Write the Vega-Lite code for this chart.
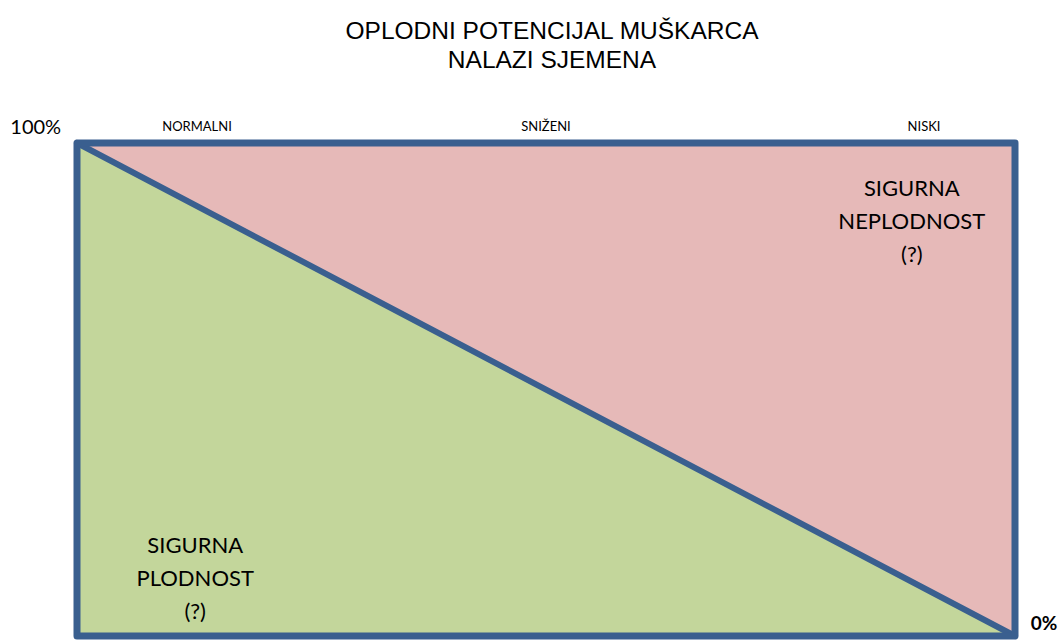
{
  "$schema": "https://vega.github.io/schema/vega-lite/v6.json",
  "width": 938,
  "height": 493,
  "autosize": {"type": "none"},
  "padding": {"left": 77, "top": 143, "right": 47, "bottom": 8},
  "background": "white",
  "config": {"view": {"stroke": null}},
  "title": {
    "text": ["OPLODNI POTENCIJAL MUŠKARCA", "NALAZI SJEMENA"],
    "font": "Liberation Sans",
    "fontSize": 24.5,
    "fontWeight": "normal",
    "color": "#000000",
    "anchor": "middle",
    "lineHeight": 29,
    "offset": 45,
    "dx": 6
  },
  "datasets": {
    "tri": [
      {"x": 0, "line": 100, "top": 100, "bottom": 0},
      {"x": 100, "line": 0, "top": 100, "bottom": 0}
    ],
    "box": [{"x": 0, "x2": 100, "y": 0, "y2": 100}],
    "labels": [
      {"x": 12.8, "y": 103.3, "text": "NORMALNI"},
      {"x": 50.0, "y": 103.3, "text": "SNIŽENI"},
      {"x": 90.3, "y": 103.3, "text": "NISKI"}
    ],
    "ends": [
      {"x": -4.4, "y": 103.0, "text": "100%"}
    ],
    "zero": [
      {"x": 103.1, "y": 2.4, "text": "0%"}
    ],
    "zones": [
      {"x": 89.0, "y": 90.6, "text": ["SIGURNA", "NEPLODNOST", "(?)"]},
      {"x": 12.6, "y": 18.3, "text": ["SIGURNA", "PLODNOST", "(?)"]}
    ]
  },
  "encoding": {},
  "layer": [
    {
      "data": {"name": "tri"},
      "mark": {"type": "area", "color": "#E6B9B8", "opacity": 1},
      "encoding": {
        "x": {"field": "x", "type": "quantitative", "scale": {"domain": [0, 100], "nice": false}, "axis": null},
        "y": {"field": "line", "type": "quantitative", "scale": {"domain": [0, 100], "nice": false}, "axis": null},
        "y2": {"field": "top"}
      }
    },
    {
      "data": {"name": "tri"},
      "mark": {"type": "area", "color": "#C3D69B", "opacity": 1},
      "encoding": {
        "x": {"field": "x", "type": "quantitative"},
        "y": {"field": "line", "type": "quantitative"},
        "y2": {"field": "bottom"}
      }
    },
    {
      "data": {"name": "tri"},
      "mark": {"type": "line", "color": "#3A5F8F", "strokeWidth": 6, "strokeCap": "round"},
      "encoding": {
        "x": {"field": "x", "type": "quantitative"},
        "y": {"field": "line", "type": "quantitative"}
      }
    },
    {
      "data": {"name": "box"},
      "mark": {"type": "rect", "fill": null, "fillOpacity": 0, "stroke": "#3A5F8F", "strokeWidth": 7, "strokeJoin": "round"},
      "encoding": {
        "x": {"field": "x", "type": "quantitative"},
        "x2": {"field": "x2"},
        "y": {"field": "y", "type": "quantitative"},
        "y2": {"field": "y2"}
      }
    },
    {
      "data": {"name": "labels"},
      "mark": {"type": "text", "font": "Lato", "fontSize": 13, "color": "#000000", "align": "center", "baseline": "middle"},
      "encoding": {
        "x": {"field": "x", "type": "quantitative"},
        "y": {"field": "y", "type": "quantitative"},
        "text": {"field": "text"}
      }
    },
    {
      "data": {"name": "ends"},
      "mark": {"type": "text", "font": "Lato", "fontSize": 20, "color": "#000000", "align": "center", "baseline": "middle"},
      "encoding": {
        "x": {"field": "x", "type": "quantitative"},
        "y": {"field": "y", "type": "quantitative"},
        "text": {"field": "text"}
      }
    },
    {
      "data": {"name": "zero"},
      "mark": {"type": "text", "font": "Lato", "fontSize": 19, "fontWeight": "bold", "color": "#000000", "align": "center", "baseline": "middle"},
      "encoding": {
        "x": {"field": "x", "type": "quantitative"},
        "y": {"field": "y", "type": "quantitative"},
        "text": {"field": "text"}
      }
    },
    {
      "data": {"name": "zones"},
      "mark": {"type": "text", "font": "Lato", "fontSize": 22, "color": "#000000", "align": "center", "baseline": "middle", "lineHeight": 33},
      "encoding": {
        "x": {"field": "x", "type": "quantitative"},
        "y": {"field": "y", "type": "quantitative"},
        "text": {"field": "text"}
      }
    }
  ]
}
